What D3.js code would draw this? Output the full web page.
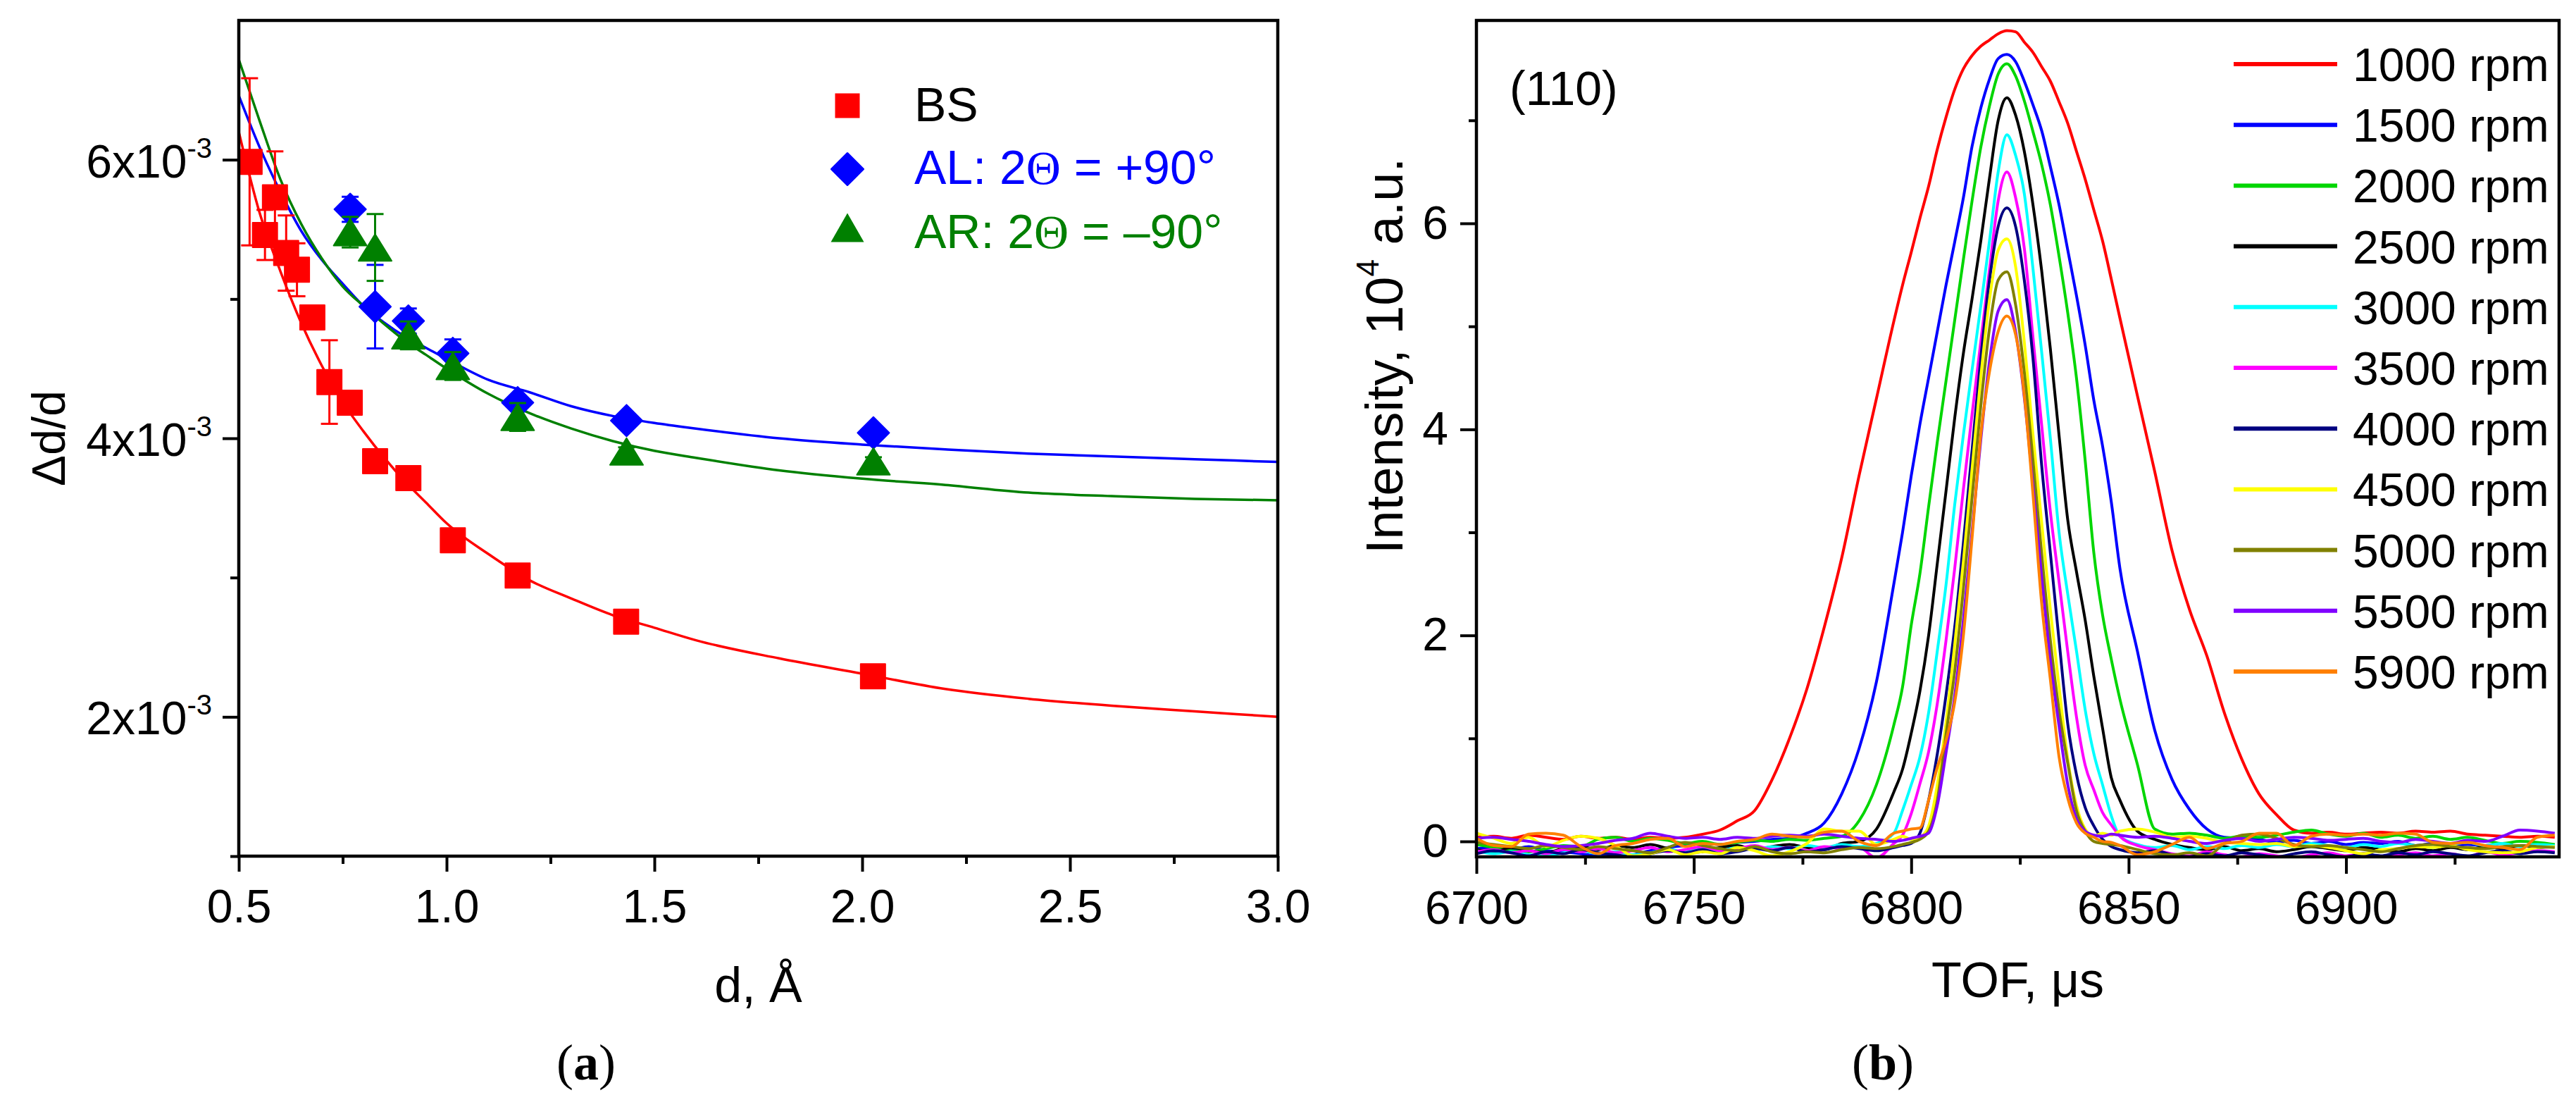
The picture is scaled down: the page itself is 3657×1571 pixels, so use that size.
<!DOCTYPE html>
<html>
<head>
<meta charset="utf-8">
<script src="https://cdn.jsdelivr.net/npm/d3@7"></script>
<style>
  body { margin: 0; background: #fff; }
  svg { display: block; }
</style>
</head>
<body>
<svg id="chart" width="3657" height="1571"></svg>
<script>
// ---------- panel (a): resolution vs d-spacing (values in units of 1e-3) ----------
const dBS = [0.526, 0.563, 0.587, 0.614, 0.640, 0.677, 0.718, 0.767, 0.828, 0.908, 1.015, 1.171, 1.432, 2.026];
const vBS = [5.985, 5.46, 5.73, 5.33, 5.21, 4.868, 4.404, 4.256, 3.836, 3.714, 3.268, 3.015, 2.683, 2.291];
const eBS = [0.60, 0.18, 0.33, 0.27, 0.19, 0.05, 0.30, 0.05, 0.04, 0.04, 0.03, 0.03, 0.03, 0.03];

const dA = [0.768, 0.828, 0.908, 1.015, 1.171, 1.433, 2.027];
const vAL = [5.644, 4.945, 4.842, 4.61, 4.256, 4.127, 4.039];
const eAL = [0.09, 0.30, 0.09, 0.10, 0.05, 0.03, 0.03];
const vAR = [5.48, 5.37, 4.739, 4.519, 4.153, 3.905, 3.834];
const eAR = [0.11, 0.24, 0.10, 0.10, 0.10, 0.03, 0.03];

const dFit = [0.5, 0.55, 0.6, 0.65, 0.7, 0.75, 0.8, 0.85, 0.9, 0.95, 1.0, 1.1, 1.2, 1.3, 1.4, 1.5, 1.6, 1.8, 2.0, 2.2, 2.4, 2.6, 2.8, 3.0];
const fitBS = [6.2, 5.62, 5.2, 4.83, 4.52, 4.26, 4.05, 3.86, 3.69, 3.54, 3.39, 3.17, 2.98, 2.85, 2.73, 2.64, 2.55, 2.42, 2.31, 2.20, 2.13, 2.08, 2.04, 2.0];
const fitAL = [6.46, 6.09, 5.77, 5.49, 5.28, 5.11, 4.95, 4.83, 4.73, 4.65, 4.57, 4.42, 4.33, 4.23, 4.16, 4.11, 4.07, 4.00, 3.955, 3.92, 3.89, 3.87, 3.85, 3.83];
const fitAR = [6.72, 6.28, 5.86, 5.54, 5.29, 5.09, 4.95, 4.82, 4.70, 4.60, 4.50, 4.32, 4.18, 4.07, 3.98, 3.91, 3.86, 3.77, 3.71, 3.665, 3.61, 3.585, 3.565, 3.555];

const dTicks = [0.5, 1.0, 1.5, 2.0, 2.5, 3.0];
const dMinor = [0.75, 1.25, 1.75, 2.25, 2.75];
const resTicks = [2, 4, 6];
const resMinor = [1, 3, 5];

// ---------- panel (b): (110) peak vs chopper speed ----------
const tof = [6700, 6704, 6708, 6712, 6716, 6720, 6724, 6728, 6732, 6736, 6740, 6744, 6748, 6752, 6756, 6760, 6764, 6768, 6772, 6776, 6780, 6784, 6788, 6792, 6796,
  6798, 6800, 6802, 6804, 6806, 6808, 6810, 6812, 6814, 6816, 6818, 6820, 6822, 6824, 6826, 6828, 6830, 6832, 6834, 6836, 6838, 6840, 6842, 6844, 6846,
  6848, 6852, 6856, 6860, 6864, 6868, 6872, 6876, 6880, 6884, 6888, 6892, 6896, 6900, 6904, 6908, 6912, 6916, 6920, 6924, 6928, 6932, 6936, 6940, 6944, 6948];

const int1000 = [0.04, 0.05, 0.03, 0.06, 0.04, 0.02, 0.05, 0.03, 0.04, 0.02, 0.04, 0.03, 0.04, 0.07, 0.11, 0.20, 0.30, 0.60, 1.00, 1.48, 2.08, 2.75, 3.55, 4.30, 5.05,
  5.40, 5.72, 6.05, 6.36, 6.72, 7.03, 7.30, 7.50, 7.63, 7.72, 7.78, 7.84, 7.87, 7.86, 7.76, 7.66, 7.52, 7.38, 7.18, 6.97, 6.70, 6.43, 6.13, 5.83, 5.46,
  5.08, 4.33, 3.59, 2.82, 2.25, 1.80, 1.25, 0.80, 0.46, 0.26, 0.11, 0.08, 0.09, 0.07, 0.08, 0.09, 0.08, 0.10, 0.09, 0.10, 0.07, 0.06, 0.05, 0.04, 0.05, 0.04];
const int1500 = [-0.07, -0.06, -0.08, -0.05, -0.09, -0.10, -0.12, -0.14, -0.15, -0.13, -0.09, -0.06, -0.04, -0.02, -0.03, -0.01, 0.00, 0.02, 0.03, 0.08, 0.18, 0.46, 0.90, 1.55, 2.50,
  3.00, 3.55, 4.05, 4.50, 4.95, 5.40, 5.82, 6.25, 6.75, 7.12, 7.40, 7.60, 7.64, 7.57, 7.38, 7.15, 6.90, 6.55, 6.18, 5.74, 5.30, 4.82, 4.28, 3.84, 3.30,
  2.65, 1.85, 1.08, 0.60, 0.31, 0.12, 0.04, 0.03, 0.02, -0.01, 0.01, -0.02, 0.00, -0.03, -0.01, -0.02, 0.00, -0.04, -0.02, -0.05, -0.03, -0.04, -0.02, -0.05, -0.03, -0.04];
const int2000 = [-0.03, -0.06, -0.09, -0.10, -0.07, -0.04, -0.05, 0.02, 0.04, 0.00, 0.03, 0.01, -0.02, 0.00, -0.03, -0.01, 0.01, 0.00, 0.02, 0.01, 0.03, 0.05, 0.20, 0.55, 1.13,
  1.50, 2.10, 2.60, 3.25, 3.88, 4.47, 5.06, 5.65, 6.22, 6.74, 7.14, 7.45, 7.55, 7.43, 7.19, 6.89, 6.57, 6.18, 5.68, 5.13, 4.50, 3.70, 2.80, 2.20, 1.77,
  1.38, 0.75, 0.12, 0.07, 0.08, 0.06, 0.03, 0.05, 0.04, 0.06, 0.09, 0.11, 0.07, 0.05, 0.08, 0.04, 0.06, 0.03, 0.05, 0.02, 0.04, 0.01, -0.02, 0.00, -0.01, -0.03];
const int2500 = [-0.08, -0.10, -0.06, -0.09, -0.11, -0.07, -0.05, -0.08, -0.04, -0.06, -0.03, -0.07, -0.11, -0.10, -0.06, -0.04, -0.08, -0.05, -0.03, -0.06, -0.08, -0.02, 0.00, 0.12, 0.48,
  0.70, 1.05, 1.46, 2.00, 2.70, 3.40, 4.11, 4.74, 5.27, 5.83, 6.44, 7.00, 7.22, 7.05, 6.70, 6.18, 5.54, 4.78, 3.94, 3.12, 2.62, 2.15, 1.60, 1.10, 0.62,
  0.40, 0.10, 0.02, -0.03, -0.06, -0.08, -0.05, -0.09, -0.07, -0.10, -0.08, -0.05, -0.07, -0.09, -0.06, -0.08, -0.10, -0.07, -0.09, -0.06, -0.08, -0.05, -0.07, -0.04, -0.06, -0.05];
const int3000 = [-0.09, -0.12, -0.10, -0.13, -0.14, -0.11, -0.09, -0.12, -0.10, -0.13, -0.11, -0.08, -0.10, -0.07, -0.09, -0.06, -0.08, -0.05, -0.07, -0.04, -0.06, -0.03, -0.05, -0.02, 0.08,
  0.30, 0.55, 0.82, 1.25, 1.85, 2.49, 3.27, 3.95, 4.58, 5.20, 5.83, 6.50, 6.86, 6.66, 6.29, 5.56, 4.75, 3.91, 3.00, 2.40, 1.85, 1.28, 0.85, 0.55, 0.25,
  0.05, -0.03, -0.06, -0.04, -0.08, -0.05, -0.07, -0.04, -0.06, -0.03, -0.05, -0.02, -0.04, -0.06, -0.03, -0.05, -0.02, -0.04, -0.06, -0.03, -0.01, -0.04, -0.02, -0.05, -0.03, -0.04];
const int3500 = [-0.10, -0.08, -0.11, -0.09, -0.12, -0.08, -0.10, -0.07, -0.11, -0.09, -0.06, -0.10, -0.08, -0.05, -0.09, -0.07, -0.04, -0.08, -0.06, -0.09, -0.05, -0.07, -0.06, -0.16, -0.02,
  0.06, 0.27, 0.56, 0.87, 1.34, 1.95, 2.65, 3.42, 4.15, 4.85, 5.55, 6.22, 6.50, 6.25, 5.76, 4.89, 4.04, 3.20, 2.52, 1.84, 1.21, 0.74, 0.50, 0.28, 0.16,
  0.05, -0.04, -0.08, -0.12, -0.14, -0.10, -0.13, -0.15, -0.12, -0.14, -0.16, -0.13, -0.11, -0.14, -0.12, -0.15, -0.13, -0.11, -0.14, -0.12, -0.15, -0.10, -0.13, -0.11, -0.09, -0.10];
const int4000 = [-0.12, -0.09, -0.11, -0.14, -0.10, -0.12, -0.08, -0.11, -0.13, -0.15, -0.12, -0.09, -0.11, -0.08, -0.12, -0.10, -0.07, -0.09, -0.06, -0.10, -0.08, -0.05, -0.07, -0.09, -0.06,
  -0.04, -0.02, 0.08, 0.40, 0.85, 1.42, 2.08, 2.90, 3.80, 4.69, 5.45, 5.97, 6.15, 5.97, 5.45, 4.69, 3.65, 2.80, 1.95, 1.14, 0.65, 0.33, 0.15, 0.02, -0.05,
  -0.08, -0.11, -0.09, -0.13, -0.15, -0.12, -0.14, -0.11, -0.13, -0.15, -0.12, -0.10, -0.13, -0.15, -0.12, -0.14, -0.11, -0.13, -0.10, -0.12, -0.14, -0.11, -0.09, -0.12, -0.10, -0.11];
const int4500 = [0.08, 0.03, -0.02, 0.04, -0.05, 0.01, 0.05, 0.03, -0.04, -0.14, -0.12, -0.08, -0.13, -0.10, -0.12, -0.06, -0.09, -0.14, -0.10, -0.02, 0.12, 0.10, 0.10, -0.03, 0.02,
  0.05, 0.02, 0.04, 0.15, 0.55, 1.15, 1.91, 2.72, 3.62, 4.51, 5.26, 5.74, 5.85, 5.58, 4.85, 3.95, 3.10, 2.25, 1.50, 0.80, 0.35, 0.12, 0.05, 0.08, 0.06,
  0.10, 0.12, 0.09, 0.04, 0.05, 0.03, -0.01, -0.02, -0.03, -0.02, -0.05, -0.04, -0.06, -0.09, -0.12, -0.08, -0.07, -0.05, -0.06, -0.04, -0.08, -0.10, -0.11, -0.10, -0.06, -0.05];
const int5000 = [-0.01, -0.03, -0.05, -0.07, -0.04, -0.06, -0.08, -0.05, -0.07, -0.09, -0.11, -0.06, -0.01, -0.04, -0.07, -0.09, -0.05, -0.10, -0.12, -0.10, -0.11, -0.08, -0.06, -0.07, -0.05,
  -0.03, -0.01, 0.02, 0.10, 0.40, 1.04, 1.65, 2.45, 3.34, 4.23, 4.98, 5.45, 5.53, 5.21, 4.56, 3.70, 2.79, 1.95, 1.27, 0.76, 0.30, 0.10, 0.00, -0.02, -0.03,
  -0.04, -0.08, -0.12, -0.13, -0.11, -0.14, -0.02, 0.06, 0.07, 0.03, -0.03, -0.05, -0.04, -0.06, -0.08, -0.10, -0.07, -0.04, -0.03, -0.05, -0.06, -0.07, -0.05, -0.04, -0.05, -0.06];
const int5500 = [0.03, 0.04, 0.02, 0.00, -0.03, -0.05, -0.04, -0.02, 0.01, 0.03, 0.08, 0.05, 0.03, 0.04, 0.02, 0.04, 0.03, 0.05, 0.06, 0.05, 0.07, 0.05, 0.03, 0.02, 0.00,
  0.01, 0.03, 0.05, 0.08, 0.35, 0.86, 1.41, 2.15, 3.01, 3.90, 4.66, 5.15, 5.26, 4.95, 4.31, 3.46, 2.57, 1.76, 1.12, 0.55, 0.22, 0.10, 0.06, 0.05, 0.07,
  0.06, 0.04, 0.05, 0.03, 0.00, -0.02, 0.01, 0.03, 0.00, 0.02, 0.04, 0.03, 0.01, 0.02, 0.03, 0.00, -0.01, 0.02, 0.00, -0.02, 0.01, 0.00, 0.05, 0.11, 0.10, 0.08];
const int5900 = [0.03, -0.04, -0.05, 0.07, 0.08, 0.06, -0.05, -0.12, -0.04, -0.02, 0.02, 0.03, -0.05, -0.02, -0.03, 0.00, 0.02, 0.07, 0.05, 0.04, 0.09, 0.10, 0.00, -0.04, 0.08,
  0.10, 0.12, 0.13, 0.40, 0.72, 0.98, 1.35, 2.00, 2.95, 3.95, 4.56, 4.95, 5.10, 4.92, 4.33, 3.37, 2.31, 1.57, 0.82, 0.42, 0.18, 0.08, 0.04, 0.00, -0.01,
  -0.04, -0.13, -0.10, -0.03, 0.04, -0.07, -0.02, 0.00, 0.08, 0.08, -0.04, 0.05, 0.07, 0.06, 0.07, 0.06, 0.08, 0.07, -0.01, -0.02, -0.01, -0.04, -0.06, -0.08, 0.04, 0.06];

const rpmLabels = ['1000 rpm', '1500 rpm', '2000 rpm', '2500 rpm', '3000 rpm', '3500 rpm', '4000 rpm', '4500 rpm', '5000 rpm', '5500 rpm', '5900 rpm'];
const rpmColors = ['#ff0000', '#0000ff', '#00d600', '#000000', '#00ffff', '#ff00ff', '#000080', '#ffff00', '#808000', '#8000ff', '#ff8000'];
const rpmValues = [int1000, int1500, int2000, int2500, int3000, int3500, int4000, int4500, int5000, int5500, int5900];

const tofTicks = [6700, 6750, 6800, 6850, 6900];
const tofMinor = [6725, 6775, 6825, 6875, 6925];
const intTicks = [0, 2, 4, 6];
const intMinor = [1, 3, 5, 7];

// ---------- drawing ----------
const FONT = '"Liberation Sans", Arial, Helvetica, sans-serif';
const SERIF = '"Liberation Serif", "Times New Roman", serif';
const svg = d3.select('#chart');

const styleAxis = (g, fs) => {
  g.attr('font-family', FONT).attr('font-size', fs);
  g.select('.domain').remove();
  g.selectAll('.tick line').attr('stroke', '#000').attr('stroke-width', 4);
  g.selectAll('.tick text').attr('fill', '#000');
};

// ===== panel (a) =====
const aBox = { left: 339, right: 1814, top: 29, bottom: 1215 };
const ax = d3.scaleLinear().domain([0.5, 3.0]).range([aBox.left, aBox.right]);
const ay = d3.scaleLinear().domain([1, 7]).range([aBox.bottom, aBox.top]);

const gA = svg.append('g');
gA.append('clipPath').attr('id', 'clipA').append('rect')
  .attr('x', aBox.left).attr('y', aBox.top)
  .attr('width', aBox.right - aBox.left).attr('height', aBox.bottom - aBox.top);

gA.append('g').attr('transform', `translate(0,${aBox.bottom})`)
  .call(d3.axisBottom(ax).tickValues(dTicks).tickSize(22).tickPadding(25).tickSizeOuter(0).tickFormat(d3.format('.1f')))
  .call(g => styleAxis(g, 66));
gA.append('g').attr('transform', `translate(0,${aBox.bottom})`)
  .call(d3.axisBottom(ax).tickValues(dMinor).tickSize(11).tickSizeOuter(0).tickFormat(''))
  .call(g => styleAxis(g, 66));
gA.append('g').attr('transform', `translate(${aBox.left},0)`)
  .call(d3.axisLeft(ay).tickValues(resTicks).tickSize(23).tickSizeOuter(0).tickFormat(''))
  .call(g => styleAxis(g, 66));
gA.append('g').attr('transform', `translate(${aBox.left},0)`)
  .call(d3.axisLeft(ay).tickValues(resMinor).tickSize(12).tickSizeOuter(0).tickFormat(''))
  .call(g => styleAxis(g, 66));

const yLab = gA.selectAll('text.ylab').data(resTicks).enter().append('text')
  .attr('class', 'ylab')
  .attr('x', 301).attr('y', d => ay(d) + 25)
  .attr('text-anchor', 'end')
  .attr('font-family', FONT).attr('font-size', 66);
yLab.append('tspan').text(d => `${d}x10`);
yLab.append('tspan').attr('dy', -28).attr('font-size', 40).text('-3');

gA.append('text')
  .attr('transform', `translate(92,${(aBox.top + aBox.bottom) / 2}) rotate(-90)`)
  .attr('text-anchor', 'middle')
  .attr('font-family', FONT).attr('font-size', 66)
  .text('Δd/d');
gA.append('text')
  .attr('x', (aBox.left + aBox.right) / 2).attr('y', 1422)
  .attr('text-anchor', 'middle')
  .attr('font-family', FONT).attr('font-size', 70)
  .text('d, Å');

const fitLine = d3.line().x((d, i) => ax(dFit[i])).y(d => ay(d)).curve(d3.curveMonotoneX);
const plotA = gA.append('g').attr('clip-path', 'url(#clipA)');
[[fitBS, '#ff0000'], [fitAL, '#0000ff'], [fitAR, '#008000']].forEach(([vals, col]) => {
  plotA.append('path').attr('d', fitLine(vals))
    .attr('fill', 'none').attr('stroke', col).attr('stroke-width', 3.5);
});

const symSquare = 'M-17.5,-17.5H17.5V17.5H-17.5Z';
const symDiamond = 'M0,-22.5L22.5,0L0,22.5L-22.5,0Z';
const symTriangle = 'M0,-19L23.5,19L-23.5,19Z';

const drawSeries = (ds, vs, es, col, sym) => {
  const g = plotA.append('g');
  const pts = ds.map((d, i) => ({ d, v: vs[i], e: es[i] }));
  const eb = g.selectAll('g.eb').data(pts).enter().append('g')
    .attr('stroke', col).attr('stroke-width', 3);
  eb.append('line').attr('x1', p => ax(p.d)).attr('x2', p => ax(p.d))
    .attr('y1', p => ay(p.v + p.e)).attr('y2', p => ay(p.v - p.e));
  eb.append('line').attr('x1', p => ax(p.d) - 12).attr('x2', p => ax(p.d) + 12)
    .attr('y1', p => ay(p.v + p.e)).attr('y2', p => ay(p.v + p.e));
  eb.append('line').attr('x1', p => ax(p.d) - 12).attr('x2', p => ax(p.d) + 12)
    .attr('y1', p => ay(p.v - p.e)).attr('y2', p => ay(p.v - p.e));
  g.selectAll('path.mk').data(pts).enter().append('path')
    .attr('d', sym)
    .attr('transform', p => `translate(${ax(p.d)},${ay(p.v)})`)
    .attr('fill', col).attr('stroke', col).attr('stroke-width', 2).attr('stroke-linejoin', 'round');
};
drawSeries(dBS, vBS, eBS, '#ff0000', symSquare);
drawSeries(dA, vAL, eAL, '#0000ff', symDiamond);
drawSeries(dA, vAR, eAR, '#008000', symTriangle);

gA.append('rect')
  .attr('x', aBox.left).attr('y', aBox.top)
  .attr('width', aBox.right - aBox.left).attr('height', aBox.bottom - aBox.top)
  .attr('fill', 'none').attr('stroke', '#000').attr('stroke-width', 4.5);

// legend (a)
const legA = gA.append('g').attr('font-family', FONT).attr('font-size', 68);
legA.append('path').attr('d', symSquare).attr('transform', 'translate(1203,150)').attr('fill', '#ff0000');
legA.append('path').attr('d', symDiamond).attr('transform', 'translate(1203,240)')
  .attr('fill', '#0000ff').attr('stroke', '#0000ff').attr('stroke-width', 3).attr('stroke-linejoin', 'round');
legA.append('path').attr('d', 'M0,-20.5L23.5,20.5L-23.5,20.5Z').attr('transform', 'translate(1203,323)').attr('fill', '#008000');
legA.append('text').attr('x', 1298).attr('y', 172).attr('fill', '#000').text('BS');
const t2 = legA.append('text').attr('x', 1298).attr('y', 261).attr('fill', '#0000ff');
t2.append('tspan').text('AL: 2');
t2.append('tspan').attr('font-family', SERIF).text('Θ');
t2.append('tspan').text(' = +90°');
const t3 = legA.append('text').attr('x', 1298).attr('y', 352).attr('fill', '#008000');
t3.append('tspan').text('AR: 2');
t3.append('tspan').attr('font-family', SERIF).text('Θ');
t3.append('tspan').text(' = –90°');

const capA = gA.append('text').attr('x', 832).attr('y', 1532).attr('text-anchor', 'middle')
  .attr('font-family', SERIF).attr('font-size', 72);
capA.append('tspan').text('(');
capA.append('tspan').attr('font-weight', 'bold').text('a');
capA.append('tspan').text(')');

// ===== panel (b) =====
const bBox = { left: 2096, right: 3633, top: 29, bottom: 1216 };
const bx = d3.scaleLinear().domain([6700, 6949]).range([bBox.left, bBox.right]);
const by = d3.scaleLinear().domain([-0.15, 7.97]).range([bBox.bottom, bBox.top]);

const gB = svg.append('g');
gB.append('clipPath').attr('id', 'clipB').append('rect')
  .attr('x', bBox.left).attr('y', bBox.top)
  .attr('width', bBox.right - bBox.left).attr('height', bBox.bottom - bBox.top);

gB.append('g').attr('transform', `translate(0,${bBox.bottom})`)
  .call(d3.axisBottom(bx).tickValues(tofTicks).tickSize(24).tickPadding(24).tickSizeOuter(0).tickFormat(d3.format('d')))
  .call(g => styleAxis(g, 66));
gB.append('g').attr('transform', `translate(0,${bBox.bottom})`)
  .call(d3.axisBottom(bx).tickValues(tofMinor).tickSize(11).tickSizeOuter(0).tickFormat(''))
  .call(g => styleAxis(g, 66));
gB.append('g').attr('transform', `translate(${bBox.left},0)`)
  .call(d3.axisLeft(by).tickValues(intTicks).tickSize(23).tickPadding(17).tickSizeOuter(0).tickFormat(d3.format('d')))
  .call(g => styleAxis(g, 66));
gB.append('g').attr('transform', `translate(${bBox.left},0)`)
  .call(d3.axisLeft(by).tickValues(intMinor).tickSize(11).tickSizeOuter(0).tickFormat(''))
  .call(g => styleAxis(g, 66));

const yTitle = gB.append('text')
  .attr('transform', 'translate(1991,505) rotate(-90)')
  .attr('text-anchor', 'middle')
  .attr('font-family', FONT).attr('font-size', 74);
yTitle.append('tspan').text('Intensity, 10');
yTitle.append('tspan').attr('dy', -34).attr('font-size', 44).text('4');
yTitle.append('tspan').attr('dy', 34).text(' a.u.');

gB.append('text')
  .attr('x', (bBox.left + bBox.right) / 2).attr('y', 1415)
  .attr('text-anchor', 'middle')
  .attr('font-family', FONT).attr('font-size', 70)
  .text('TOF, μs');

const peakLine = d3.line().x((d, i) => bx(tof[i])).y(d => by(d)).curve(d3.curveMonotoneX);
const plotB = gB.append('g').attr('clip-path', 'url(#clipB)');
plotB.selectAll('path.peak').data(rpmValues).enter().append('path')
  .attr('class', 'peak')
  .attr('d', d => peakLine(d))
  .attr('fill', 'none')
  .attr('stroke', (d, i) => rpmColors[i])
  .attr('stroke-width', 4)
  .attr('stroke-linejoin', 'round');

gB.append('rect')
  .attr('x', bBox.left).attr('y', bBox.top)
  .attr('width', bBox.right - bBox.left).attr('height', bBox.bottom - bBox.top)
  .attr('fill', 'none').attr('stroke', '#000').attr('stroke-width', 4.5);

gB.append('text').attr('x', 2143).attr('y', 149)
  .attr('font-family', FONT).attr('font-size', 68).text('(110)');

const legB = gB.append('g').attr('font-family', FONT).attr('font-size', 66);
const rows = legB.selectAll('g.row').data(rpmLabels).enter().append('g')
  .attr('transform', (d, i) => `translate(0,${91 + i * 86.2})`);
rows.append('line').attr('x1', 3171).attr('x2', 3318).attr('y1', 0).attr('y2', 0)
  .attr('stroke', (d, i) => rpmColors[i]).attr('stroke-width', 6);
rows.append('text').attr('x', 3340).attr('y', 24).attr('fill', '#000').text(d => d);

const capB = gB.append('text').attr('x', 2673).attr('y', 1532).attr('text-anchor', 'middle')
  .attr('font-family', SERIF).attr('font-size', 72);
capB.append('tspan').text('(');
capB.append('tspan').attr('font-weight', 'bold').text('b');
capB.append('tspan').text(')');
</script>
</body>
</html>
